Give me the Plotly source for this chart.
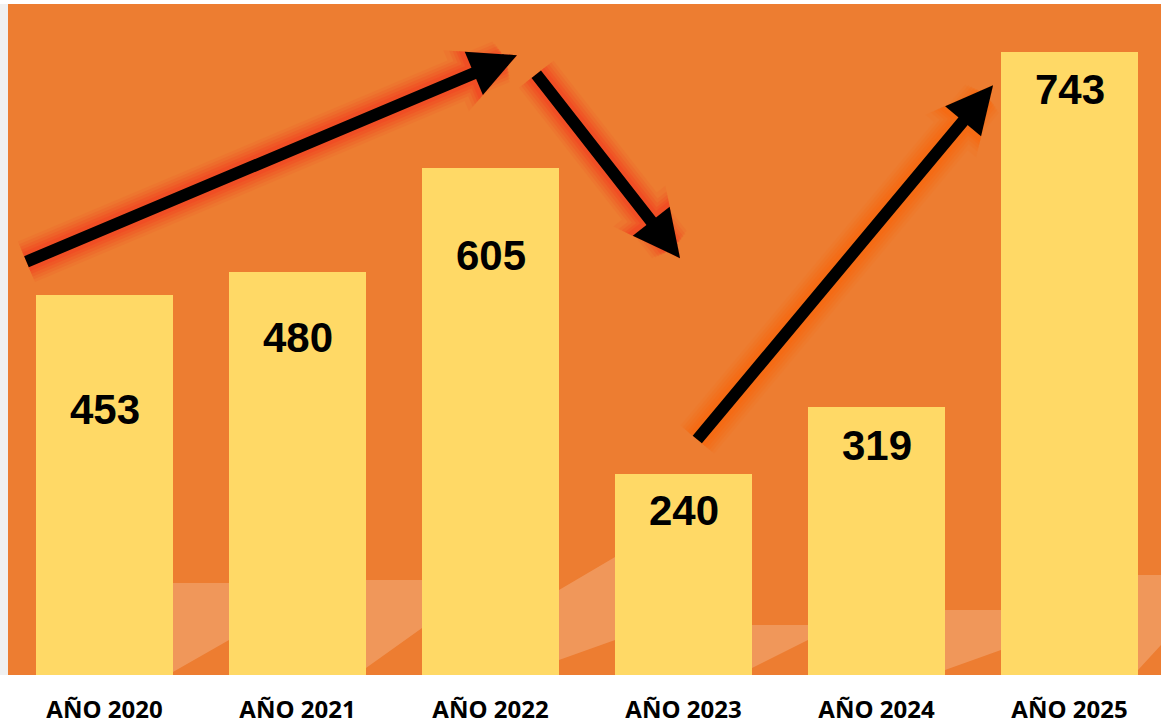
import plotly.graph_objects as go

years = ["AÑO 2020", "AÑO 2021", "AÑO 2022", "AÑO 2023", "AÑO 2024", "AÑO 2025"]
values = [453, 480, 605, 240, 319, 743]
# vertical centre of each value label (data units)
label_y = [316, 402, 500, 196, 274, 698]

# arrows: (tail x, tail y, tip x, tip y) in data units
arrows = [
    (-0.412, 492, 2.137, 739),
    (2.231, 718, 2.982, 497),
    (3.065, 279, 4.604, 703),
]
glow_rgb = ["242,70,35", "242,70,35", "248,105,15"]

BG = "#ED7D31"
BAR = "#FFD966"

xs = list(range(len(years)))

# plot area in page pixels (for decorative background wave)
PL, PR, PT, PB = 8, 1161, 4, 675


def px(x, y):
    return (x - PL) / (PR - PL), (PB - y) / (PB - PT)


wave_top = [(140, 600), (173, 583), (229, 583), (366, 580), (422, 580), (559, 590),
            (615, 557), (752, 625), (808, 625), (945, 610), (1001, 610),
            (1138, 575), (1161, 575)]
wave_bot = [(1161, 645), (1138, 670), (1001, 650), (945, 670), (808, 640), (752, 668),
            (615, 640), (559, 660), (422, 628), (366, 668), (229, 640), (173, 672),
            (140, 675)]

pts = [px(*p) for p in wave_top + wave_bot]
path = "M " + " L ".join(f"{a:.4f},{b:.4f}" for a, b in pts) + " Z"

fig = go.Figure()
fig.add_trace(go.Bar(
    x=xs, y=values, width=0.71,
    marker=dict(color=BAR, line=dict(width=0)),
    hoverinfo="skip",
))

annotations = []

glow_layers = [(44, 0.30, 0.12),
               (38, 0.32, 0.18),
               (32, 0.36, 0.25),
               (26, 0.42, 0.35),
               (20, 0.52, 0.50)]
for (tx, ty, hx, hy), rgb in zip(arrows, glow_rgb):
    for w, s, a in glow_layers:
        annotations.append(dict(
            x=hx, y=hy, ax=tx, ay=ty, xref="x", yref="y", axref="x", ayref="y",
            text="", showarrow=True, arrowhead=2, arrowsize=s, arrowwidth=w,
            arrowcolor=f"rgba({rgb},{a})",
        ))
for (tx, ty, hx, hy) in arrows:
    annotations.append(dict(
        x=hx, y=hy, ax=tx, ay=ty, xref="x", yref="y", axref="x", ayref="y",
        text="", showarrow=True, arrowhead=2, arrowsize=0.78, arrowwidth=12,
        arrowcolor="black",
    ))

for i, (v, ly) in enumerate(zip(values, label_y)):
    annotations.append(dict(
        x=i, y=ly, xref="x", yref="y", text=str(v), showarrow=False,
        font=dict(family="Liberation Sans", size=42, color="black", weight="bold"),
        xanchor="center", yanchor="middle",
    ))

shapes = [
    dict(type="path", xref="paper", yref="paper", layer="below", path=path,
         fillcolor="rgba(255,255,255,0.2)", line=dict(width=0)),
    dict(type="rect", xref="paper", yref="paper", layer="below",
         x0=-8 / (PR - PL), x1=0, y0=0, y1=1,
         fillcolor="rgba(0,0,0,0.06)", line=dict(width=0)),
]

fig.update_layout(
    width=1161, height=728,
    margin=dict(l=8, r=0, t=4, b=53),
    paper_bgcolor="white",
    plot_bgcolor=BG,
    showlegend=False,
    bargap=0,
    annotations=annotations,
    shapes=shapes,
    xaxis=dict(
        range=[-0.5, -0.5 + 1153 / 193],
        tickvals=xs, ticktext=years,
        showgrid=False, zeroline=False, showline=False, ticks="",
        tickfont=dict(family="Open Sans", size=24, color="black", weight="bold"),
        ticklabelstandoff=18,
        fixedrange=True,
    ),
    yaxis=dict(
        range=[0, 800], showgrid=False, zeroline=False, showline=False,
        showticklabels=False, ticks="", fixedrange=True,
    ),
)

fig.write_html("out.html", config={"displayModeBar": False},
               post_script="document.body.style.margin='0';")
